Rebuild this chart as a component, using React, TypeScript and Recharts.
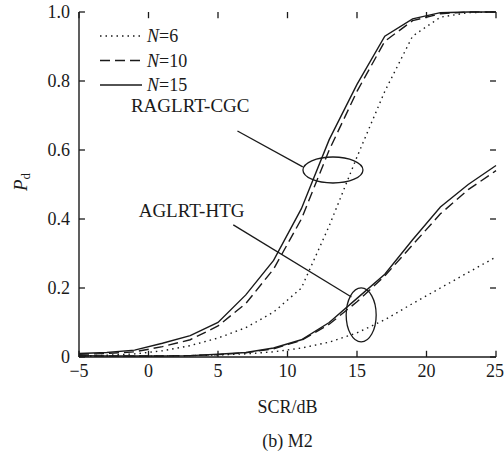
import { LineChart, Line, XAxis, YAxis, Legend, Label, ReferenceLine, ReferenceDot } from 'recharts';

const scr = [-5, -3, -1, 1, 3, 5, 7, 9, 11, 13, 15, 17, 19, 21, 23, 25];

// RAGLRT-CGC
const cgc6 = [0.003, 0.005, 0.009, 0.018, 0.033, 0.055, 0.085, 0.13, 0.2, 0.38, 0.58, 0.77, 0.93, 0.985, 0.998, 1.0];
const cgc10 = [0.008, 0.01, 0.015, 0.03, 0.05, 0.09, 0.155, 0.255, 0.4, 0.6, 0.77, 0.915, 0.975, 0.995, 1.0, 1.0];
const cgc15 = [0.01, 0.013, 0.02, 0.04, 0.062, 0.1, 0.18, 0.28, 0.43, 0.63, 0.79, 0.93, 0.98, 0.998, 1.0, 1.0];

// AGLRT-HTG
const htg6 = [0.002, 0.002, 0.002, 0.003, 0.004, 0.006, 0.009, 0.015, 0.026, 0.043, 0.07, 0.108, 0.155, 0.2, 0.245, 0.29];
const htg10 = [0.003, 0.003, 0.003, 0.003, 0.004, 0.007, 0.012, 0.024, 0.048, 0.095, 0.16, 0.235, 0.325, 0.415, 0.485, 0.54];
const htg15 = [0.004, 0.003, 0.003, 0.003, 0.004, 0.008, 0.013, 0.026, 0.05, 0.1, 0.17, 0.24, 0.34, 0.435, 0.5, 0.555];

const xTicks = [-5, 0, 5, 10, 15, 20, 25];
const yTicks = [0, 0.2, 0.4, 0.6, 0.8, 1.0];

const data = scr.map((x, i) => ({
  x,
  cgc6: cgc6[i], cgc10: cgc10[i], cgc15: cgc15[i],
  htg6: htg6[i], htg10: htg10[i], htg15: htg15[i],
}));

const FONT = '"Liberation Serif", "Times New Roman", serif';
const INK = '#1a1a1a';
// inward tick length, in data units (about 6px on each axis)
const TX = 0.43;
const TY = 0.018;

const styles = [
  { n: '6', dash: '1.5 4' },
  { n: '10', dash: '10 5' },
  { n: '15', dash: undefined },
];

const fmtX = (v: number) => (v < 0 ? '\u2212' + Math.abs(v) : String(v));
const fmtY = (v: number) => (v === 0 ? '0' : v.toFixed(1));

function LegendBox() {
  return (
    <svg width={90} height={80}>
      {styles.map((s, i) => {
        const y = 10 + i * 24.5;
        return (
          <g key={s.n}>
            <line x1={2} x2={44} y1={y} y2={y} stroke={INK} strokeWidth={1.4} strokeDasharray={s.dash} />
            <text x={49} y={y + 6} fontFamily={FONT} fontSize={18} fill={INK}>
              <tspan fontStyle="italic">N</tspan>={s.n}
            </text>
          </g>
        );
      })}
    </svg>
  );
}

const ellipse = (rx: number, ry: number) => (p: any) => (
  <ellipse cx={p.cx} cy={p.cy} rx={rx} ry={ry} fill="none" stroke={INK} strokeWidth={1.3} />
);
const note = (t: string) => (p: any) => (
  <text x={p.cx} y={p.cy} textAnchor="middle" dominantBaseline="central" fontFamily={FONT} fontSize={19} fill={INK}>
    {t}
  </text>
);

const axisLine = { stroke: INK, strokeWidth: 1.4 };
const tickFont = { fontFamily: FONT, fontSize: 18, fill: INK };

export default function App() {
  const series = [
    { key: 'cgc6', s: styles[0] }, { key: 'cgc10', s: styles[1] }, { key: 'cgc15', s: styles[2] },
    { key: 'htg6', s: styles[0] }, { key: 'htg10', s: styles[1] }, { key: 'htg15', s: styles[2] },
  ];
  const x0 = xTicks[0];
  const x1 = xTicks[xTicks.length - 1];
  const y0 = yTicks[0];
  const y1 = yTicks[yTicks.length - 1];
  return (
    <div style={{ position: 'fixed', left: 0, top: 0, background: '#fff', fontFamily: FONT }}>
      <LineChart width={504} height={451} data={data} margin={{ top: 12, right: 8, left: 0, bottom: 64 }}
        style={{ fontFamily: FONT }}>
        <XAxis
          dataKey="x" type="number" domain={[x0, x1]} ticks={xTicks} tickFormatter={fmtX} axisLine={axisLine}
          height={30} tickSize={0} tickMargin={7} tickLine={false} tick={tickFont}
        >
          <Label
            content={(p: any) => (
              <g>
                <text x={p.viewBox.x + p.viewBox.width / 2} y={p.viewBox.y + 56} textAnchor="middle" fontFamily={FONT} fontSize={18} fill={INK}>
                  SCR/dB
                </text>
                <text x={p.viewBox.x + p.viewBox.width / 2} y={p.viewBox.y + 90} textAnchor="middle" fontFamily={FONT} fontSize={18} fill={INK}>
                  (b) M2
                </text>
              </g>
            )}
          />
        </XAxis>
        <XAxis xAxisId="top" orientation="top" dataKey="x" type="number" domain={[x0, x1]} ticks={xTicks}
          height={0} tickLine={false} tick={false} axisLine={axisLine} />
        <YAxis
          type="number" domain={[y0, y1]} ticks={yTicks} tickFormatter={fmtY} width={79} axisLine={axisLine}
          tickSize={0} tickMargin={9} tickLine={false} tick={tickFont}
        >
          <Label
            content={(p: any) => (
              <text x={20} y={p.viewBox.y + 170} transform={`rotate(-90 20 ${p.viewBox.y + 170})`}
                textAnchor="middle" dominantBaseline="central" fontFamily={FONT} fontSize={19} fill={INK}>
                <tspan fontStyle="italic">P</tspan>
                <tspan fontSize={13} dy={5}>d</tspan>
              </text>
            )}
          />
        </YAxis>
        <YAxis yAxisId="right" orientation="right" type="number" domain={[y0, y1]} ticks={yTicks}
          width={0} tickLine={false} tick={false} axisLine={axisLine} />
        <Legend
          layout="vertical" align="center" verticalAlign="middle"
          wrapperStyle={{ position: 'absolute', left: 98, top: 26, width: 90, height: 80 }}
          content={() => <LegendBox />}
        />
        {xTicks.map((t) => (
          <ReferenceLine key={'b' + t} segment={[{ x: t, y: y0 }, { x: t, y: y0 + TY }]} stroke={INK} strokeWidth={1.3} ifOverflow="visible" />
        ))}
        {xTicks.map((t) => (
          <ReferenceLine key={'t' + t} segment={[{ x: t, y: y1 }, { x: t, y: y1 - TY }]} stroke={INK} strokeWidth={1.3} ifOverflow="visible" />
        ))}
        {yTicks.map((t) => (
          <ReferenceLine key={'l' + t} segment={[{ x: x0, y: t }, { x: x0 + TX, y: t }]} stroke={INK} strokeWidth={1.3} ifOverflow="visible" />
        ))}
        {yTicks.map((t) => (
          <ReferenceLine key={'r' + t} segment={[{ x: x1, y: t }, { x: x1 - TX, y: t }]} stroke={INK} strokeWidth={1.3} ifOverflow="visible" />
        ))}
        {series.map(({ key, s }) => (
          <Line key={key} type="linear" dataKey={key} stroke={INK} strokeWidth={1.4}
            strokeDasharray={s.dash} dot={false} isAnimationActive={false} />
        ))}
        <ReferenceLine segment={[{ x: 6.4, y: 0.655 }, { x: 11.1, y: 0.551 }]} stroke={INK} strokeWidth={1.3} ifOverflow="visible" />
        <ReferenceLine segment={[{ x: 6.1, y: 0.383 }, { x: 14.6, y: 0.174 }]} stroke={INK} strokeWidth={1.3} ifOverflow="visible" />
        <ReferenceDot x={13.27} y={0.542} r={1} shape={ellipse(30, 13)} ifOverflow="visible" />
        <ReferenceDot x={15.3} y={0.122} r={1} shape={ellipse(15, 27)} ifOverflow="visible" />
        <ReferenceDot x={3.0} y={0.728} r={1} shape={note('RAGLRT-CGC')} ifOverflow="visible" />
        <ReferenceDot x={3.1} y={0.426} r={1} shape={note('AGLRT-HTG')} ifOverflow="visible" />
      </LineChart>
    </div>
  );
}
